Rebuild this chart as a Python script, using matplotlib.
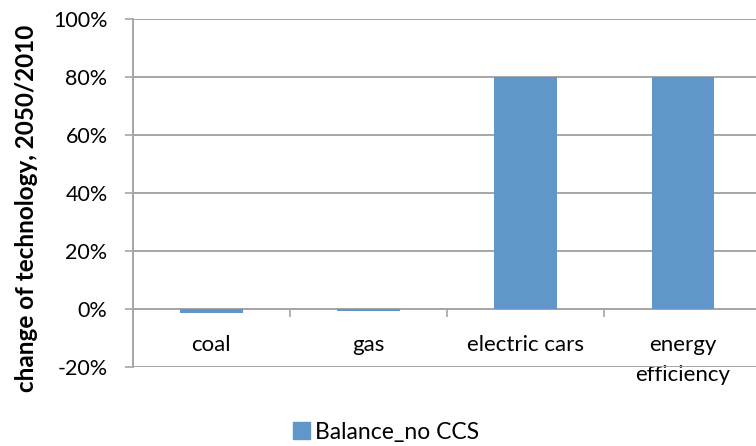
import matplotlib.pyplot as plt
from matplotlib.patches import Patch
from matplotlib.ticker import PercentFormatter

categories = ["coal", "gas", "electric cars", "energy\nefficiency"]
values = [-0.015, -0.008, 0.80, 0.80]
series_name = "Balance_no CCS"

bar_color = "#6096C9"
grid_color = "#A6A6A6"

plt.rcParams['font.family'] = ['Lato', 'DejaVu Sans']
plt.rcParams['axes.unicode_minus'] = False

fig = plt.figure(figsize=(7.56, 4.46), dpi=100)
ax = fig.add_axes([132.6 / 756, 79 / 446, 629 / 756, 348 / 446])

x = list(range(len(categories)))
ax.bar(x, values, width=0.4, color=bar_color, zorder=3)

ax.set_xlim(-0.5, len(categories) - 0.5)
ax.set_ylim(-0.2, 1.0)
ax.set_yticks([-0.2, 0, 0.2, 0.4, 0.6, 0.8, 1.0])
ax.yaxis.set_major_formatter(PercentFormatter(1.0, decimals=0))
ax.tick_params(axis='y', labelsize=15.5, length=6, width=1.2, color=grid_color, pad=12)
ax.yaxis.grid(True, color=grid_color, linewidth=1.4, zorder=0)
ax.set_axisbelow(True)

for s in ["top", "right", "bottom"]:
    ax.spines[s].set_visible(False)
ax.spines["left"].set_color(grid_color)
ax.spines["left"].set_linewidth(1.4)

ax.set_xticks([])

# category axis sits on the zero line
sec = ax.secondary_xaxis(0.2 / 1.2)
sec.set_xticks(x)
sec.set_xticklabels(categories, linespacing=1.6)
sec.set_xticks([i + 0.5 for i in x[:-1]], minor=True)
sec.tick_params(axis='x', which='major', length=0, pad=19, labelsize=16)
sec.tick_params(axis='x', which='minor', length=6, width=1.2, color=grid_color, direction='out')
sec.spines["bottom"].set_color(grid_color)
sec.spines["bottom"].set_linewidth(1.4)

ax.set_ylabel("change of technology, 2050/2010", fontsize=17.5, fontweight='bold',
              va='center')
ax.yaxis.set_label_coords(-0.168, 0.455)

fig.legend(handles=[Patch(color=bar_color, label=series_name)], loc="center",
           bbox_to_anchor=(386 / 756, 0.031), frameon=False, fontsize=16.5,
           handlelength=0.75, handleheight=0.75, handletextpad=0.2)

fig.savefig("out.png", dpi=100)
